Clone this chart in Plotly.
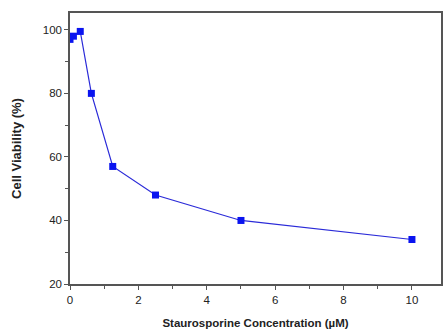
import plotly.graph_objects as go

concentration = [0.0, 0.1, 0.3, 0.625, 1.25, 2.5, 5.0, 10.0]
viability = [97, 98, 99.5, 80, 57, 48, 40, 34]

x_ticks = [0, 2, 4, 6, 8, 10]
y_ticks = [20, 40, 60, 80, 100]

fig = go.Figure()
fig.add_trace(go.Scatter(
    x=concentration, y=viability, mode="lines+markers",
    line=dict(color="#2a2ad8", width=1.2),
    marker=dict(symbol="square", size=7, color="#0a14f0"),
))

axis_common = dict(
    showgrid=False, zeroline=False, showline=True, linecolor="#555555", linewidth=1.5,
    mirror=True, ticks="outside", ticklen=4, tickcolor="#555555", tickwidth=1,
    tickfont=dict(family="Liberation Sans", size=11.5, color="#222222"),
)

fig.update_layout(
    width=444, height=334,
    margin=dict(l=70, r=1, t=13, b=50),
    paper_bgcolor="white", plot_bgcolor="white",
    showlegend=False,
    font=dict(family="Liberation Sans", color="#222222"),
    xaxis=dict(
        range=[0, 10.85], tickvals=x_ticks,
        minor=dict(tickvals=[1, 3, 5, 7, 9], ticks="outside", ticklen=3, tickcolor="#555555"),
        title=dict(text="<b>Staurosporine Concentration (µM)</b>", font=dict(size=11.5), standoff=14),
        tickprefix="<b>", ticksuffix="</b>",
        **axis_common,
    ),
    yaxis=dict(
        range=[20, 105.3], tickvals=y_ticks,
        minor=dict(tickvals=[30, 50, 70, 90], ticks="outside", ticklen=3, tickcolor="#555555"),
        title=dict(text="<b>Cell Viability (%)</b>", font=dict(size=13), standoff=18),
        tickprefix="<b>", ticksuffix="</b>",
        **axis_common,
    ),
)

fig.write_html("out.html")
